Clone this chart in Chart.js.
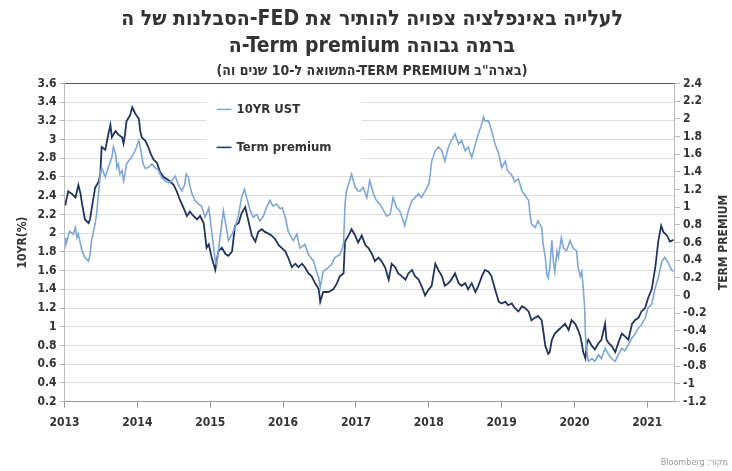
<!DOCTYPE html>
<html>
<head>
<meta charset="utf-8">
<script src="https://cdn.jsdelivr.net/npm/chart.js@4"></script>
<style>
  html, body { margin: 0; padding: 0; background: #fff; }
  #wrap { width: 732px; height: 471px; }
</style>
</head>
<body>
<div id="wrap"><canvas id="yields-canvas"></canvas></div>
<script>
// 10 year US treasury yield, % (left axis)
const ustYears = [2013.01,2013.02,2013.07,2013.12,2013.15,2013.17,2013.19,2013.22,2013.24,2013.28,2013.33,2013.35,2013.37,2013.42,2013.44,2013.47,2013.49,2013.51,2013.56,2013.60,2013.65,2013.67,2013.70,2013.72,2013.74,2013.76,2013.79,2013.81,2013.83,2013.85,2013.88,2013.92,2013.97,2014.02,2014.04,2014.08,2014.11,2014.15,2014.20,2014.24,2014.29,2014.33,2014.38,2014.43,2014.47,2014.52,2014.56,2014.61,2014.65,2014.67,2014.70,2014.72,2014.75,2014.79,2014.84,2014.88,2014.93,2014.98,2015.02,2015.07,2015.09,2015.14,2015.18,2015.23,2015.25,2015.30,2015.34,2015.39,2015.43,2015.47,2015.50,2015.55,2015.59,2015.64,2015.68,2015.73,2015.77,2015.82,2015.86,2015.91,2015.96,2015.99,2016.03,2016.07,2016.14,2016.19,2016.23,2016.30,2016.35,2016.42,2016.46,2016.49,2016.51,2016.55,2016.62,2016.67,2016.71,2016.78,2016.83,2016.85,2016.87,2016.92,2016.94,2016.99,2017.03,2017.06,2017.10,2017.15,2017.19,2017.24,2017.28,2017.33,2017.38,2017.42,2017.47,2017.51,2017.56,2017.60,2017.65,2017.67,2017.72,2017.77,2017.81,2017.86,2017.90,2017.95,2018.00,2018.02,2018.04,2018.09,2018.13,2018.18,2018.22,2018.27,2018.31,2018.36,2018.41,2018.45,2018.50,2018.54,2018.59,2018.64,2018.68,2018.73,2018.75,2018.77,2018.82,2018.86,2018.91,2018.96,2019.00,2019.05,2019.08,2019.14,2019.18,2019.23,2019.28,2019.37,2019.39,2019.41,2019.46,2019.50,2019.55,2019.57,2019.60,2019.62,2019.64,2019.66,2019.69,2019.71,2019.73,2019.76,2019.78,2019.82,2019.85,2019.89,2019.94,2019.98,2020.03,2020.05,2020.08,2020.10,2020.12,2020.14,2020.15,2020.17,2020.19,2020.24,2020.28,2020.33,2020.37,2020.42,2020.47,2020.51,2020.56,2020.60,2020.65,2020.69,2020.74,2020.79,2020.83,2020.88,2020.92,2020.97,2021.01,2021.06,2021.11,2021.15,2021.20,2021.24,2021.29,2021.33,2021.36];
const ustValues = [1.95,1.88,2.02,1.99,2.06,1.95,1.99,1.88,1.81,1.74,1.70,1.77,1.92,2.10,2.20,2.45,2.63,2.70,2.60,2.70,2.81,2.92,2.85,2.70,2.74,2.63,2.67,2.56,2.63,2.74,2.77,2.81,2.88,2.99,2.92,2.74,2.69,2.70,2.74,2.70,2.67,2.60,2.56,2.54,2.56,2.61,2.52,2.45,2.52,2.63,2.60,2.51,2.42,2.35,2.31,2.29,2.17,2.27,2.02,1.70,1.67,1.99,2.24,2.02,1.92,1.99,2.06,2.20,2.38,2.47,2.38,2.24,2.17,2.20,2.13,2.18,2.27,2.35,2.29,2.31,2.26,2.27,2.17,2.02,1.92,1.99,1.84,1.88,1.77,1.70,1.59,1.52,1.42,1.59,1.63,1.67,1.74,1.77,1.88,2.31,2.45,2.58,2.63,2.49,2.45,2.45,2.49,2.38,2.56,2.42,2.35,2.31,2.24,2.18,2.20,2.38,2.27,2.24,2.13,2.08,2.24,2.35,2.38,2.42,2.38,2.45,2.52,2.63,2.77,2.88,2.92,2.88,2.77,2.92,2.99,3.06,2.95,2.99,2.88,2.92,2.81,2.95,3.06,3.17,3.24,3.20,3.20,3.10,2.95,2.85,2.70,2.77,2.67,2.62,2.55,2.58,2.45,2.35,2.20,2.10,2.06,2.13,2.06,1.88,1.74,1.56,1.52,1.63,1.92,1.70,1.59,1.81,1.74,1.95,1.84,1.81,1.92,1.84,1.81,1.63,1.54,1.59,1.42,1.20,0.92,0.74,0.63,0.66,0.63,0.70,0.66,0.77,0.70,0.66,0.63,0.70,0.77,0.74,0.81,0.88,0.92,0.99,1.02,1.09,1.20,1.24,1.42,1.52,1.70,1.74,1.68,1.61,1.59];

// US 10 year term premium, % (right axis)
const tpYears = [2013.01,2013.05,2013.10,2013.15,2013.19,2013.22,2013.24,2013.28,2013.33,2013.35,2013.37,2013.42,2013.47,2013.49,2013.51,2013.56,2013.60,2013.63,2013.65,2013.70,2013.74,2013.79,2013.81,2013.83,2013.85,2013.90,2013.93,2013.97,2014.02,2014.04,2014.06,2014.11,2014.15,2014.18,2014.22,2014.27,2014.31,2014.36,2014.40,2014.45,2014.50,2014.54,2014.59,2014.63,2014.68,2014.72,2014.77,2014.82,2014.86,2014.91,2014.93,2014.95,2014.98,2015.02,2015.07,2015.11,2015.16,2015.21,2015.25,2015.30,2015.34,2015.39,2015.43,2015.48,2015.52,2015.57,2015.62,2015.66,2015.71,2015.75,2015.80,2015.84,2015.89,2015.94,2015.98,2016.03,2016.07,2016.12,2016.17,2016.21,2016.26,2016.30,2016.35,2016.39,2016.44,2016.49,2016.51,2016.55,2016.62,2016.69,2016.74,2016.78,2016.83,2016.85,2016.90,2016.94,2016.99,2017.03,2017.08,2017.13,2017.17,2017.22,2017.26,2017.31,2017.35,2017.40,2017.45,2017.49,2017.54,2017.58,2017.63,2017.68,2017.72,2017.77,2017.81,2017.86,2017.90,2017.95,2018.00,2018.04,2018.09,2018.13,2018.18,2018.22,2018.27,2018.31,2018.36,2018.41,2018.45,2018.50,2018.54,2018.59,2018.64,2018.68,2018.73,2018.77,2018.82,2018.86,2018.91,2018.96,2019.00,2019.05,2019.09,2019.14,2019.18,2019.23,2019.28,2019.32,2019.37,2019.41,2019.46,2019.50,2019.55,2019.57,2019.60,2019.64,2019.66,2019.69,2019.73,2019.78,2019.82,2019.87,2019.92,2019.96,2020.01,2020.05,2020.08,2020.10,2020.12,2020.15,2020.17,2020.19,2020.24,2020.28,2020.33,2020.37,2020.42,2020.44,2020.47,2020.51,2020.56,2020.60,2020.65,2020.69,2020.74,2020.79,2020.83,2020.88,2020.92,2020.97,2021.01,2021.06,2021.11,2021.15,2021.19,2021.22,2021.27,2021.31,2021.36];
const tpValues = [1.02,1.18,1.15,1.11,1.25,1.15,1.04,0.86,0.82,0.86,0.97,1.22,1.29,1.36,1.68,1.65,1.82,1.93,1.79,1.86,1.82,1.79,1.72,1.82,1.97,2.04,2.13,2.06,2.00,1.86,1.79,1.75,1.68,1.61,1.54,1.50,1.40,1.34,1.32,1.29,1.25,1.18,1.07,1.00,0.90,0.95,0.90,0.86,0.90,0.82,0.68,0.54,0.58,0.43,0.29,0.50,0.54,0.47,0.45,0.50,0.79,0.82,0.93,1.00,0.86,0.68,0.61,0.72,0.75,0.72,0.70,0.68,0.64,0.57,0.54,0.50,0.43,0.32,0.36,0.32,0.36,0.32,0.25,0.22,0.14,0.07,-0.07,0.04,0.04,0.07,0.14,0.22,0.25,0.61,0.68,0.75,0.68,0.60,0.68,0.57,0.54,0.47,0.39,0.43,0.39,0.32,0.18,0.36,0.32,0.25,0.22,0.18,0.25,0.29,0.22,0.18,0.11,0.00,0.07,0.11,0.36,0.29,0.22,0.11,0.14,0.18,0.25,0.14,0.11,0.14,0.07,0.14,0.04,0.11,0.22,0.29,0.27,0.22,0.07,-0.07,-0.09,-0.07,-0.11,-0.09,-0.14,-0.18,-0.12,-0.14,-0.18,-0.28,-0.25,-0.23,-0.28,-0.39,-0.57,-0.66,-0.64,-0.50,-0.43,-0.39,-0.36,-0.32,-0.39,-0.28,-0.32,-0.39,-0.46,-0.54,-0.64,-0.71,-0.54,-0.50,-0.57,-0.61,-0.54,-0.50,-0.32,-0.50,-0.54,-0.57,-0.64,-0.54,-0.43,-0.46,-0.50,-0.32,-0.28,-0.25,-0.18,-0.14,-0.03,0.07,0.32,0.61,0.79,0.72,0.68,0.61,0.63];

const seriesNames = ['10YR UST', 'Term premium'];
const titleLines = ['הסבלנות של ה-FED לעלייה באינפלציה צפויה להותיר את', 'ה-Term premium ברמה גבוהה'];
const subtitleText = '(התשואה ל-10 שנים וה-TERM PREMIUM בארה"ב)';
const sourceText = 'מקור: Bloomberg';
const rightAxisTitle = 'TERM PREMIUM';

const condensed = "'DejaVu Sans Condensed', 'Liberation Sans Narrow', sans-serif";
const ink = '#333';
const axisFont = {family: condensed, weight: 'bold', size: 12};

const toPoints = (xs, ys) => xs.map((x, i) => ({x: x, y: ys[i]}));
const fmt = v => String(+v.toFixed(1));

// white legend panel sitting inside the plot
const legendBox = {
  id: 'legendBox',
  afterDatasetsDraw(chart) {
    const ctx = chart.ctx;
    const a = chart.chartArea;
    const x0 = a.left + 142, y0 = a.top + 10;
    ctx.save();
    ctx.fillStyle = '#fff';
    ctx.fillRect(x0, y0, 155, 74);
    ctx.font = 'bold 13px ' + condensed;
    ctx.textBaseline = 'middle';
    chart.data.datasets.forEach(function(ds, i){
      const y = y0 + 16 + i * 38;
      ctx.strokeStyle = ds.borderColor;
      ctx.lineWidth = 1.5;
      ctx.beginPath();
      ctx.moveTo(x0 + 10, y);
      ctx.lineTo(x0 + 25, y);
      ctx.stroke();
      ctx.fillStyle = ink;
      ctx.fillText(ds.label, x0 + 30, y);
    });
    ctx.restore();
  }
};

// right axis title reads bottom-to-top, plus the source note in the corner
const extraText = {
  id: 'extraText',
  afterDraw(chart) {
    const ctx = chart.ctx;
    const a = chart.chartArea;
    const s = chart.scales.y1;
    ctx.save();
    ctx.translate(s.right - 8, (a.top + a.bottom) / 2);
    ctx.rotate(-Math.PI / 2);
    ctx.font = 'bold 12px ' + condensed;
    ctx.fillStyle = ink;
    ctx.textAlign = 'center';
    ctx.textBaseline = 'middle';
    ctx.fillText(rightAxisTitle, 0, 0);
    ctx.restore();

    ctx.save();
    ctx.direction = 'rtl';
    ctx.font = '9px ' + condensed;
    ctx.fillStyle = '#999';
    ctx.textAlign = 'right';
    ctx.textBaseline = 'middle';
    ctx.fillText(sourceText, chart.width - 4, chart.height - 8);
    ctx.restore();
  }
};

const ctx = document.getElementById('yields-canvas');
new Chart(ctx, {
  type: 'line',
  data: {
    datasets: [{
      label: seriesNames[0],
      data: toPoints(ustYears, ustValues),
      borderColor: '#7ea7d8',
      borderWidth: 1.6,
      pointRadius: 0,
      yAxisID: 'y'
    }, {
      label: seriesNames[1],
      data: toPoints(tpYears, tpValues),
      borderColor: '#22335f',
      borderWidth: 1.8,
      pointRadius: 0,
      yAxisID: 'y1'
    }]
  },
  options: {
    responsive: true,
    maintainAspectRatio: false,
    animation: false,
    layout: {
      padding: {left: 12, right: 0, top: 0, bottom: 33}
    },
    scales: {
      x: {
        type: 'linear',
        min: 2013,
        max: 2021.38,
        border: {color: '#999'},
        grid: {drawOnChartArea: false, tickLength: 6, tickColor: '#999'},
        ticks: {
          stepSize: 1,
          includeBounds: false,
          maxRotation: 0,
          padding: 8,
          color: ink,
          font: axisFont,
          callback: v => Number.isInteger(v) ? String(v) : ''
        }
      },
      y: {
        position: 'left',
        min: 0.2,
        max: 3.6,
        border: {color: '#bbb'},
        grid: {
          color: c => c.tick && Math.abs(c.tick.value - 3.6) < 1e-6 ? '#555' : '#dcdcdc',
          tickLength: 5,
          tickColor: '#bbb'
        },
        ticks: {
          stepSize: 0.2,
          color: ink,
          font: axisFont,
          callback: v => fmt(v)
        },
        title: {
          display: true,
          text: '10YR(%)',
          color: ink,
          font: axisFont
        }
      },
      y1: {
        position: 'right',
        min: -1.2,
        max: 2.4,
        border: {color: '#bbb'},
        grid: {drawOnChartArea: false, tickLength: 5, tickColor: '#bbb'},
        ticks: {
          stepSize: 0.2,
          color: ink,
          font: axisFont,
          callback: v => fmt(v)
        },
        // space is kept here; the text itself is drawn by extraText
        title: {
          display: true,
          text: rightAxisTitle,
          color: 'rgba(0,0,0,0)',
          font: axisFont
        }
      }
    },
    plugins: {
      legend: {display: false},
      tooltip: {enabled: false},
      title: {
        display: true,
        text: titleLines,
        color: ink,
        font: {family: condensed, weight: 'bold', size: 21, lineHeight: 1.3},
        padding: {top: 6, bottom: 0}
      },
      subtitle: {
        display: true,
        text: subtitleText,
        color: ink,
        font: {family: condensed, weight: 'bold', size: 14, lineHeight: 1.2},
        padding: {top: 2, bottom: 4}
      }
    }
  },
  plugins: [legendBox, extraText]
});
</script>
</body>
</html>
